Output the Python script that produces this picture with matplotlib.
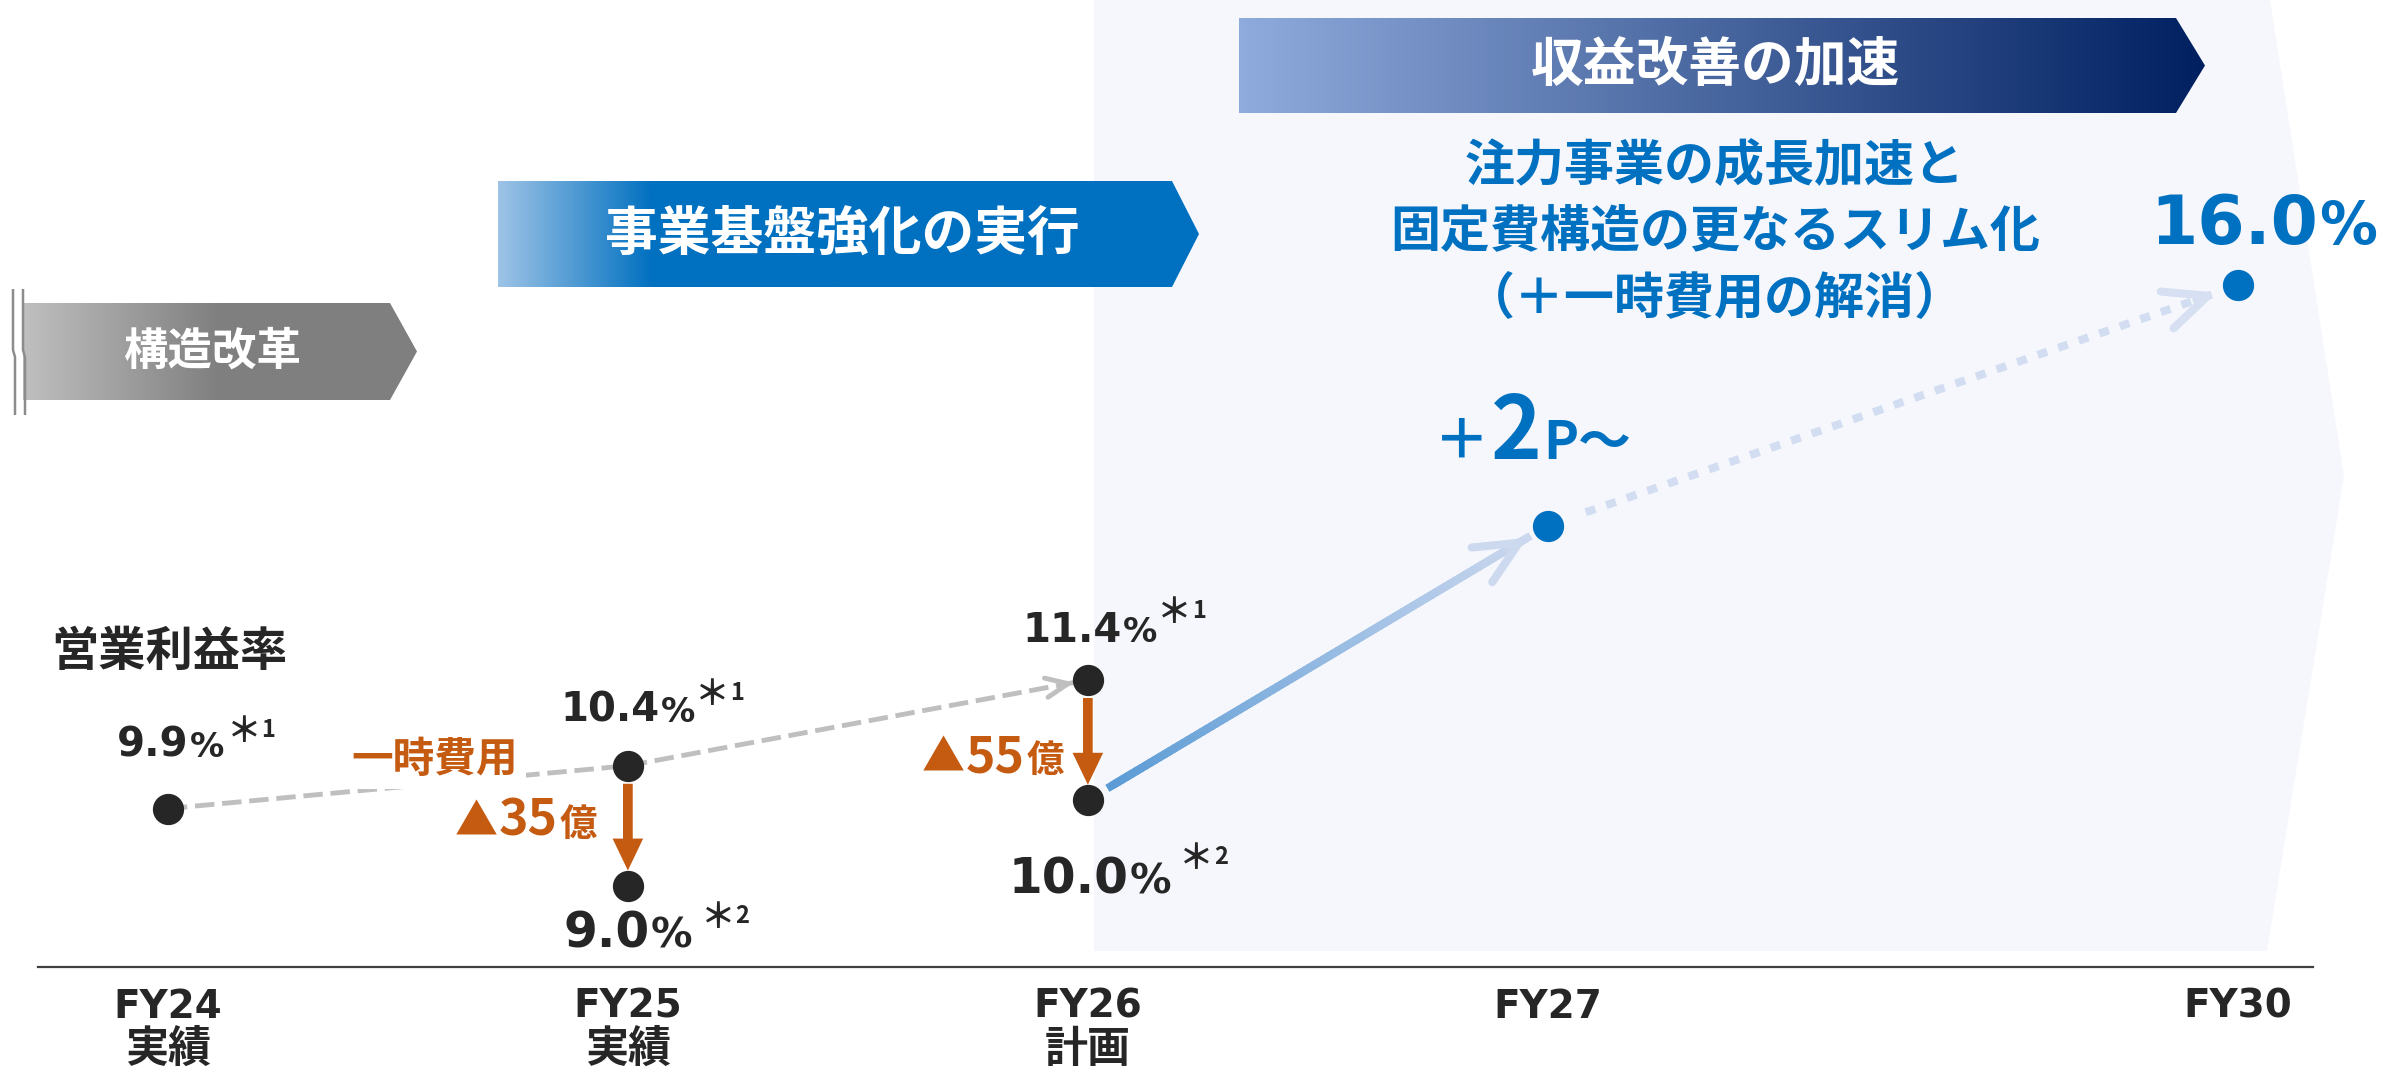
import numpy as np
import matplotlib
matplotlib.use('Agg')
import matplotlib.pyplot as plt
from matplotlib.colors import LinearSegmentedColormap
from matplotlib.collections import LineCollection
from matplotlib.patches import Polygon, FancyArrowPatch
from matplotlib.offsetbox import TextArea, HPacker, AnnotationBbox

plt.rcParams['font.family'] = ['Noto Sans CJK JP', 'DejaVu Sans']
plt.rcParams['font.weight'] = 'bold'

# ---- data ----
years = ['FY24', 'FY25', 'FY26', 'FY27', 'FY30']
year_notes = ['実績', '実績', '計画', '', '']
margin_pre = [9.9, 10.4, 11.4]      # FY24-FY26, before one-off costs (*1)
margin_post = [9.0, 10.0]           # FY25, FY26, after one-off costs (*2)
one_off_cost = [35, 55]             # 億円, FY25 / FY26
fy27_gain = 2                       # +2P~
fy27_level = 13.2                   # height of the FY27 dot (no value printed)
fy30_margin = 16.0

# horizontal slot of each year (FY30 sits further out)
x_slot = [0, 1, 2, 3, 4.5]

DARK = '#262626'
BLUE = '#0070C0'
ORANGE = '#C55A11'
GRAY = '#BFBFBF'
NUM_FONT = ['DejaVu Sans']

W, H = 2402, 1069
fig = plt.figure(figsize=(W / 100, H / 100), dpi=100)
deco = fig.add_axes([0, 0, 1, 1], zorder=0)   # background, pixel coords
ax = fig.add_axes([0, 0, 1, 1], zorder=1)     # chart, data coords
ax.set_facecolor('none')

# ---- background decoration ----
deco.add_patch(Polygon([(1094, 0), (2270, 0), (2344, 476), (2267, 951), (1094, 951)],
                       closed=True, fc='#F5F7FC', ec='none', zorder=-5))


def banner(x0, x1, tip, y0, y1, stops, label, size, tx):
    poly = Polygon([(x0, y0), (x1, y0), (tip, (y0 + y1) / 2), (x1, y1), (x0, y1)],
                   closed=True, fc='none', ec='none')
    deco.add_patch(poly)
    cmap = LinearSegmentedColormap.from_list('band', stops)
    im = deco.imshow(np.linspace(0, 1, 256)[None, :], cmap=cmap, aspect='auto',
                     extent=(x0, tip, y1, y0), interpolation='bilinear', zorder=1)
    im.set_clip_path(poly)
    deco.text(tx, (y0 + y1) / 2, label, color='white', fontsize=size,
              ha='center', va='center', zorder=3)


banner(23, 390, 417, 303, 400, [(0, '#BFBFBF'), (0.5, '#7F7F7F'), (1, '#7F7F7F')],
       '構造改革', 32, 212)
banner(498, 1172, 1199, 181, 287, [(0, '#9DC3E6'), (0.22, '#0070C0'), (1, '#0070C0')],
       '事業基盤強化の実行', 38, 842)
banner(1239, 2176, 2205, 18, 113, [(0, '#8FAADC'), (1, '#002060')],
       '収益改善の加速', 38, 1715)

# break marks left of the first banner
for dx in (0, 10):
    deco.plot([13 + dx, 13 + dx, 15 + dx, 15 + dx], [289, 350, 357, 415],
              color='#8C8C8C', lw=1.8, solid_capstyle='butt', zorder=4)

deco.text(1715, 233, '注力事業の成長加速と\n固定費構造の更なるスリム化\n（＋一時費用の解消）',
          color=BLUE, fontsize=36, ha='center', va='center', linespacing=1.38)
deco.text(51, 652, '営業利益率', color=DARK, fontsize=34, ha='left', va='center')
deco.plot([38, 2313], [967, 967], color='#404040', lw=1.6)

deco.set_xlim(0, W)
deco.set_ylim(H, 0)
deco.axis('off')

# ---- chart ----
ax.set_xlim(-0.365, 4.857)
ax.set_ylim(6.864, 19.327)
ax.axis('off')


def head(a, b, color, lw, hl, hw):
    ax.add_patch(FancyArrowPatch(a, b, arrowstyle=f'->,head_length={hl},head_width={hw}',
                                 mutation_scale=1, color=color, lw=lw, capstyle='round',
                                 joinstyle='round', shrinkA=0, shrinkB=0, zorder=3))


# grey dashed trend FY24 -> FY25 -> FY26
ax.plot(x_slot[:2], margin_pre[:2], color=GRAY, lw=3.5, dashes=(4, 1.6), zorder=2)
p0 = np.array([x_slot[1], margin_pre[1]])
p1 = np.array([x_slot[2], margin_pre[2]])
tip = p0 + 0.97 * (p1 - p0)
ax.plot([p0[0], tip[0]], [p0[1], tip[1]], color=GRAY, lw=3.5, dashes=(4, 1.6), zorder=2)
head(tip - 0.03 * (p1 - p0), tip, GRAY, 3.5, 16, 7)

# gradient arrow FY26 -> FY27
c0 = np.array([x_slot[2], margin_post[1]])
c1 = np.array([x_slot[3], fy27_level])
t = np.linspace(0.05, 0.955, 90)
pts = c0 + t[:, None] * (c1 - c0)
segs = np.stack([pts[:-1], pts[1:]], axis=1)
blue_grad = LinearSegmentedColormap.from_list('bg', ['#5B9BD5', '#CAD7EE'])
ax.add_collection(LineCollection(segs, colors=blue_grad(np.linspace(0, 1, len(segs))),
                                 linewidths=5.8, capstyle='projecting', zorder=2))
head(pts[-4], pts[-1], '#CDD9EF', 5.8, 31, 14.5)

# dotted arrow FY27 -> FY30
d0 = np.array([x_slot[3], fy27_level])
d1 = np.array([x_slot[4], fy30_margin])
s, e = d0 + 0.055 * (d1 - d0), d0 + 0.97 * (d1 - d0)
ax.plot([s[0], e[0]], [s[1], e[1]], color='#D2DDF1', lw=5.8, dashes=(1.25, 1.45),
        solid_capstyle='butt', zorder=2)
head(e - 0.03 * (d1 - d0), e, '#D6E0F2', 5.8, 31, 14)

# one-off cost drops
for xs, top, bot in zip(x_slot[1:3], margin_pre[1:], margin_post):
    ax.add_patch(FancyArrowPatch((xs, top), (xs, bot),
                                 arrowstyle='simple,head_length=23,head_width=22,tail_width=7',
                                 mutation_scale=1, color=ORANGE, lw=0,
                                 shrinkA=13, shrinkB=11, zorder=3))

# dots
ax.plot(x_slot[:3] + x_slot[1:3], margin_pre + margin_post, 'o', ms=21.5,
        color=DARK, zorder=5, ls='none')
ax.plot(x_slot[3:], [fy27_level, fy30_margin], 'o', ms=21.5, color=BLUE, zorder=5, ls='none')


def packed(parts, color):
    # parts: (text, size, family or None)
    kids = []
    for txt, fs, fam in parts:
        props = dict(fontsize=fs, color=color, fontweight='bold')
        if fam:
            props['family'] = fam
        kids.append(TextArea(txt, textprops=props))
    return HPacker(children=kids, align='baseline', pad=0, sep=1)


def place(box, xy, off, align):
    ab = AnnotationBbox(box, xy, xybox=off, xycoords='data', boxcoords='offset pixels',
                        box_alignment=align, frameon=False, pad=0, zorder=6)
    ax.add_artist(ab)
    return ab


def value_label(xy, value, size, note, off, note_off, color=DARK):
    ab = place(packed([(f'{value:.1f}', size, NUM_FONT), ('%', size * 0.85, NUM_FONT)], color),
               xy, off, (0.5, 0))
    if note:
        star = ax.annotate('＊', xy=(1, 0), xycoords=ab, xytext=note_off,
                           textcoords='offset pixels', ha='left', va='baseline',
                           fontsize=25, color=color, zorder=7)
        ax.annotate(note, xy=(1, 1), xycoords=star, xytext=(0, -4),
                    textcoords='offset pixels', ha='left', va='top',
                    fontsize=17, color=color, zorder=7)


value_label((x_slot[0], margin_pre[0]), margin_pre[0], 29, '1', (3, 43), (2, 24))
value_label((x_slot[1], margin_pre[1]), margin_pre[1], 29, '1', (0, 35), (0, 26))
value_label((x_slot[2], margin_pre[2]), margin_pre[2], 29, '1', (2, 29), (0, 28))
value_label((x_slot[1], margin_post[0]), margin_post[0], 35, '2', (0, -72), (8, 30))
value_label((x_slot[2], margin_post[1]), margin_post[1], 35, '2', (2, -103), (8, 34))
value_label((x_slot[4], fy30_margin), fy30_margin, 49, '', (26, 27), (0, 0), color=BLUE)

place(packed([('＋', 40, None), (str(fy27_gain), 62, None), ('P～', 38, None)], BLUE),
      (x_slot[3], fy27_level), (-15, 48), (0.5, 0))

for xs, bot, cost, off in zip(x_slot[1:3], margin_post, one_off_cost, [(-31, 39), (-24, 17)]):
    place(packed([('▲', 31, None), (str(cost), 36, None), ('億', 27, None)], ORANGE),
          (xs, bot), off, (1, 0))

ax.annotate('一時費用', (x_slot[1], margin_pre[1]), xytext=(-193, 6), textcoords='offset pixels',
            ha='center', va='center', fontsize=30, color=ORANGE, zorder=4,
            bbox=dict(fc='white', ec='none', pad=6))

# year labels
for xs, yr, note in zip(x_slot, years, year_notes):
    ax.annotate(yr, (xs, H - 1007), xycoords=('data', 'figure pixels'),
                ha='center', va='center', fontsize=28, color=DARK, family=NUM_FONT)
    if note:
        ax.annotate(note, (xs, H - 1049), xycoords=('data', 'figure pixels'),
                    ha='center', va='center', fontsize=31, color=DARK)

fig.savefig('out.png', dpi=100)
